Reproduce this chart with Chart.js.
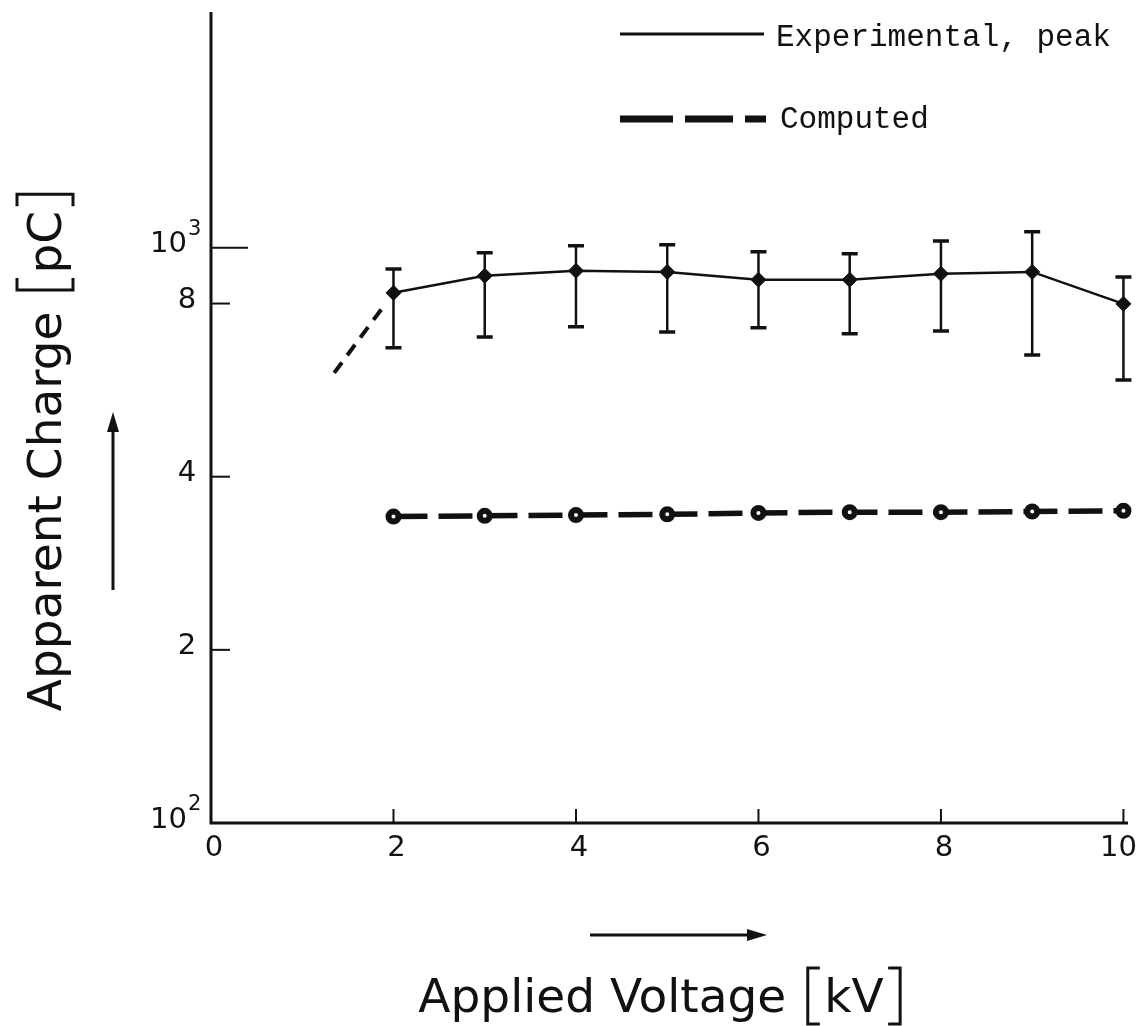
<!DOCTYPE html>
<html><head><meta charset="utf-8">
<script src="https://cdn.jsdelivr.net/npm/chart.js@4.4.1/dist/chart.umd.min.js"></script>
<style>html,body{margin:0;padding:0;background:#fff;}canvas{display:block;}</style>
</head><body>
<canvas id="c" width="1139" height="1026"></canvas>
<script>
// ---- data ----
const voltages = [2, 3, 4, 5, 6, 7, 8, 9, 10];            // kV
const expPeak  = [835, 894, 912, 908, 880, 880, 901, 908, 799]; // pC
const expHigh  = [919, 980, 1008, 1012, 984, 976, 1028, 1066, 890];
const expLow   = [670, 700, 729, 714, 726, 709, 717, 651, 589];
const computed = [341, 342, 343, 344, 346, 347, 347, 348, 349];
const extrapV  = [1.35, 1.88];
const extrapQ  = [606, 787];
const xTickValues = [0, 2, 4, 6, 8, 10];
const xTickLabels = ['0', '2', '4', '6', '8', '10'];
const yTickValues = [100, 200, 400, 800, 1000];
const yTickLabels = [['10','2'], ['2',''], ['4',''], ['8',''], ['10','3']];
const legendLabels = ['Experimental, peak', 'Computed'];
const xTitle = ['Applied Voltage', 'kV'];
const yTitle = ['Apparent Charge', 'pC'];

const INK = '#111';
const labelFont = '"DejaVu Sans", sans-serif';
const monoFont = '"Liberation Mono", "DejaVu Sans Mono", monospace';

function bracket(ctx, x, top, bot, w, dir) {
  ctx.beginPath();
  ctx.moveTo(x + dir * w, top); ctx.lineTo(x, top); ctx.lineTo(x, bot); ctx.lineTo(x + dir * w, bot);
  ctx.stroke();
}
function drawTitle(ctx, parts, cx, cy, rot) {
  ctx.save();
  ctx.translate(cx, cy);
  if (rot) ctx.rotate(rot);
  ctx.font = '47px ' + labelFont;
  ctx.fillStyle = INK; ctx.strokeStyle = INK; ctx.lineWidth = 3;
  ctx.textBaseline = 'alphabetic'; ctx.textAlign = 'left';
  const w0 = ctx.measureText(parts[0]).width, w1 = ctx.measureText(parts[1]).width;
  const gap = 20, bw = 12, pad = 6;
  const total = w0 + gap + bw + pad + w1 + pad + bw;
  let xx = -total / 2;
  ctx.fillText(parts[0], xx, 0); xx += w0 + gap;
  bracket(ctx, xx + 1.5, -44, 12, bw, 1); xx += bw + pad;
  ctx.fillText(parts[1], xx, 0); xx += w1 + pad;
  bracket(ctx, xx + bw - 1.5, -44, 12, bw, -1);
  ctx.restore();
}
function arrow(ctx, x1, y1, x2, y2) {
  ctx.save(); ctx.strokeStyle = INK; ctx.fillStyle = INK; ctx.lineWidth = 3;
  const a = Math.atan2(y2 - y1, x2 - x1);
  ctx.beginPath(); ctx.moveTo(x1, y1); ctx.lineTo(x2 - 10 * Math.cos(a), y2 - 10 * Math.sin(a)); ctx.stroke();
  ctx.translate(x2, y2); ctx.rotate(a);
  ctx.beginPath(); ctx.moveTo(0, 0); ctx.lineTo(-20, -6); ctx.lineTo(-20, 6); ctx.closePath(); ctx.fill();
  ctx.restore();
}

const overlay = {
  id: 'overlay',
  beforeDatasetsDraw(chart) {
    const { ctx, scales: { x, y } } = chart;
    ctx.save(); ctx.strokeStyle = INK;
    voltages.forEach((v, i) => {
      const px = x.getPixelForValue(v), top = y.getPixelForValue(expHigh[i]), bot = y.getPixelForValue(expLow[i]);
      ctx.lineWidth = 2.5;
      ctx.beginPath(); ctx.moveTo(px, top); ctx.lineTo(px, bot); ctx.stroke();
      ctx.lineWidth = 3.5;
      ctx.beginPath(); ctx.moveTo(px - 8, top); ctx.lineTo(px + 8, top); ctx.moveTo(px - 8, bot); ctx.lineTo(px + 8, bot); ctx.stroke();
    });
    ctx.restore();
  },
  afterDraw(chart) {
    const { ctx, chartArea: ca, scales: { x, y } } = chart;
    ctx.save();
    ctx.strokeStyle = INK; ctx.fillStyle = INK; ctx.lineWidth = 3;
    // axes
    ctx.beginPath(); ctx.moveTo(ca.left, ca.top); ctx.lineTo(ca.left, ca.bottom); ctx.lineTo(ca.right, ca.bottom); ctx.stroke();
    // y ticks
    ctx.lineWidth = 2;
    yTickValues.forEach((v) => {
      if (v === 100) return;
      const py = y.getPixelForValue(v);
      const len = v === 1000 ? 37 : 19;
      ctx.beginPath(); ctx.moveTo(ca.left, py); ctx.lineTo(ca.left + len, py); ctx.stroke();
    });
    // x ticks
    xTickValues.forEach(v => {
      if (v === 0) return;
      const px = x.getPixelForValue(v);
      ctx.beginPath(); ctx.moveTo(px, ca.bottom); ctx.lineTo(px, ca.bottom - 14); ctx.stroke();
    });
    // y labels
    ctx.textBaseline = 'middle';
    yTickValues.forEach((v, i) => {
      const py = y.getPixelForValue(v);
      const [base, sup] = yTickLabels[i];
      if (sup) {
        ctx.font = '29px ' + labelFont; ctx.textAlign = 'right';
        ctx.fillText(base, 187, py - 3);
        ctx.font = '21px ' + labelFont; ctx.textAlign = 'left';
        ctx.fillText(sup, 188, py - 18);
      } else {
        ctx.font = '29px ' + labelFont; ctx.textAlign = 'center';
        ctx.fillText(base, 187, py - 3);
      }
    });
    // x labels
    ctx.font = '29px ' + labelFont;
    xTickValues.forEach((v, i) => {
      const px = x.getPixelForValue(v);
      if (i === xTickValues.length - 1) { ctx.textAlign = 'right'; ctx.fillText(xTickLabels[i], 1137, 848); }
      else { ctx.textAlign = 'center'; ctx.fillText(xTickLabels[i], px + 3, 848); }
    });
    // titles
    drawTitle(ctx, xTitle, 660, 1012, 0);
    drawTitle(ctx, yTitle, 61, 452, -Math.PI / 2);
    // arrows
    arrow(ctx, 113, 590, 113, 412);
    arrow(ctx, 590, 935, 767, 935);
    // legend
    ctx.lineWidth = 3;
    ctx.beginPath(); ctx.moveTo(620, 34); ctx.lineTo(764, 34); ctx.stroke();
    ctx.lineWidth = 7; ctx.setLineDash([53, 12, 48, 12, 21, 300]);
    ctx.beginPath(); ctx.moveTo(620, 119); ctx.lineTo(766, 119); ctx.stroke();
    ctx.setLineDash([]);
    ctx.font = '31px ' + monoFont; ctx.textAlign = 'left'; ctx.textBaseline = 'middle';
    ctx.fillText(legendLabels[0], 776, 38);
    ctx.fillText(legendLabels[1], 780, 120);
    ctx.restore();
  }
};

new Chart(document.getElementById('c'), {
  type: 'line',
  data: {
    datasets: [
      {
        label: legendLabels[0],
        data: voltages.map((v, i) => ({ x: v, y: expPeak[i] })),
        borderColor: INK, backgroundColor: INK, borderWidth: 2.5,
        pointStyle: 'rectRot', pointRadius: 7.5, pointBorderWidth: 1, tension: 0, clip: false
      },
      {
        label: 'extrapolation',
        data: extrapV.map((v, i) => ({ x: v, y: extrapQ[i] })),
        borderColor: INK, borderWidth: 4, borderDash: [13, 9], pointRadius: 0, clip: false
      },
      {
        label: legendLabels[1],
        data: voltages.map((v, i) => ({ x: v, y: computed[i] })),
        borderColor: INK, backgroundColor: '#fff', borderWidth: 5.5, borderDash: [34, 11],
        pointStyle: 'circle', pointRadius: 5, pointBorderWidth: 6, tension: 0, clip: false
      }
    ]
  },
  options: {
    responsive: false, animation: false,
    layout: { padding: { left: 211, right: 11, top: 12, bottom: 203 } },
    plugins: { legend: { display: false }, tooltip: { enabled: false } },
    scales: {
      x: { type: 'linear', min: 0, max: 10.05, display: false },
      y: { type: 'logarithmic', min: 100, max: 2570, display: false }
    }
  },
  plugins: [overlay]
});
</script></body></html>
